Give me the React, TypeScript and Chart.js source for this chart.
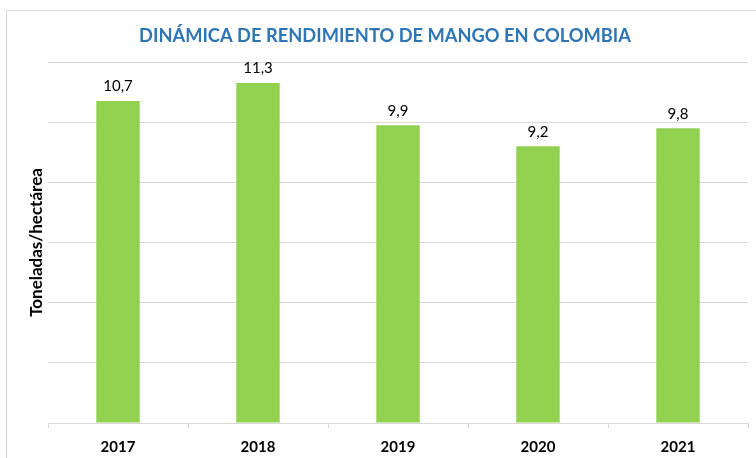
import React, { useEffect, useRef } from "react";
import { Chart, registerables } from "chart.js";

Chart.register(...registerables);

const categories = ["2017", "2018", "2019", "2020", "2021"];
const values = [10.7, 11.3, 9.9, 9.2, 9.8];
const yMin = 0;
const yMax = 12;
const yStep = 2;
const titleText = "DINÁMICA DE RENDIMIENTO DE MANGO EN COLOMBIA";
const yTitle = "Toneladas/hectárea";

const FONT = "Lato, 'Open Sans', sans-serif";

const dataLabels = {
  id: "dataLabels",
  afterDatasetsDraw(chart: any) {
    const ctx = chart.ctx;
    const meta = chart.getDatasetMeta(0);
    ctx.save();
    ctx.font = `15px ${FONT}`;
    ctx.fillStyle = "#000000";
    ctx.textAlign = "center";
    ctx.textBaseline = "bottom";
    meta.data.forEach((el: any, i: number) => {
      const v = chart.data.datasets[0].data[i] as number;
      ctx.fillText(v.toFixed(1).replace(".", ","), el.x, el.y - 7);
    });
    ctx.restore();
  },
};

const chartTitle = {
  id: "chartTitle",
  afterDraw(chart: any) {
    const ctx = chart.ctx;
    ctx.save();
    ctx.font = `bold 18.3px ${FONT}`;
    ctx.fillStyle = "#2e75b6";
    ctx.textAlign = "center";
    ctx.textBaseline = "alphabetic";
    ctx.fillText(titleText, 385, 42);
    ctx.restore();
  },
};

export default function App() {
  const ref = useRef<HTMLCanvasElement>(null);
  useEffect(() => {
    if (!ref.current) return;
    const chart = new Chart(ref.current, {
      type: "bar",
      data: {
        labels: categories,
        datasets: [
          {
            data: values,
            backgroundColor: "#92d050",
            borderWidth: 0,
            categoryPercentage: 1,
            barPercentage: 0.31,
          },
        ],
      },
      options: {
        responsive: false,
        animation: false,
        layout: { padding: { left: 0, right: 8, top: 62, bottom: 0 } },
        plugins: {
          legend: { display: false },
          tooltip: { enabled: false },
          title: { display: false },
        },
        scales: {
          x: {
            grid: {
              display: true,
              drawOnChartArea: false,
              drawTicks: true,
              tickLength: 5,
              color: "#d9d9d9",
              offset: true,
            },
            border: { display: true, color: "#d9d9d9", width: 1 },
            ticks: {
              color: "#000000",
              font: { family: FONT, size: 15, weight: "bold" },
              padding: 10,
            },
            afterFit(scale: any) {
              scale.height = 35;
            },
          },
          y: {
            min: yMin,
            max: yMax,
            grid: { color: "#d9d9d9", drawTicks: false },
            border: { display: false },
            ticks: { display: false, stepSize: yStep },
            title: {
              display: true,
              text: yTitle,
              color: "#000000",
              font: { family: FONT, size: 17, weight: "bold", lineHeight: 1.2 },
              padding: { top: 26.8, bottom: 0 },
            },
            afterFit(scale: any) {
              scale.width = 48;
            },
          },
        },
      },
      plugins: [dataLabels, chartTitle],
    });
    return () => chart.destroy();
  }, []);

  return (
    <div
      style={{
        position: "absolute",
        left: 0,
        top: 0,
        width: 756,
        height: 458,
        overflow: "hidden",
        background: "#ffffff",
      }}
    >
      <div
        style={{
          position: "absolute",
          left: 6,
          top: 10,
          width: 800,
          height: 500,
          border: "1px solid #d9d9d9",
        }}
      />
      <canvas
        ref={ref}
        width={756}
        height={458}
        style={{ position: "absolute", left: 0, top: 0 }}
      />
    </div>
  );
}
